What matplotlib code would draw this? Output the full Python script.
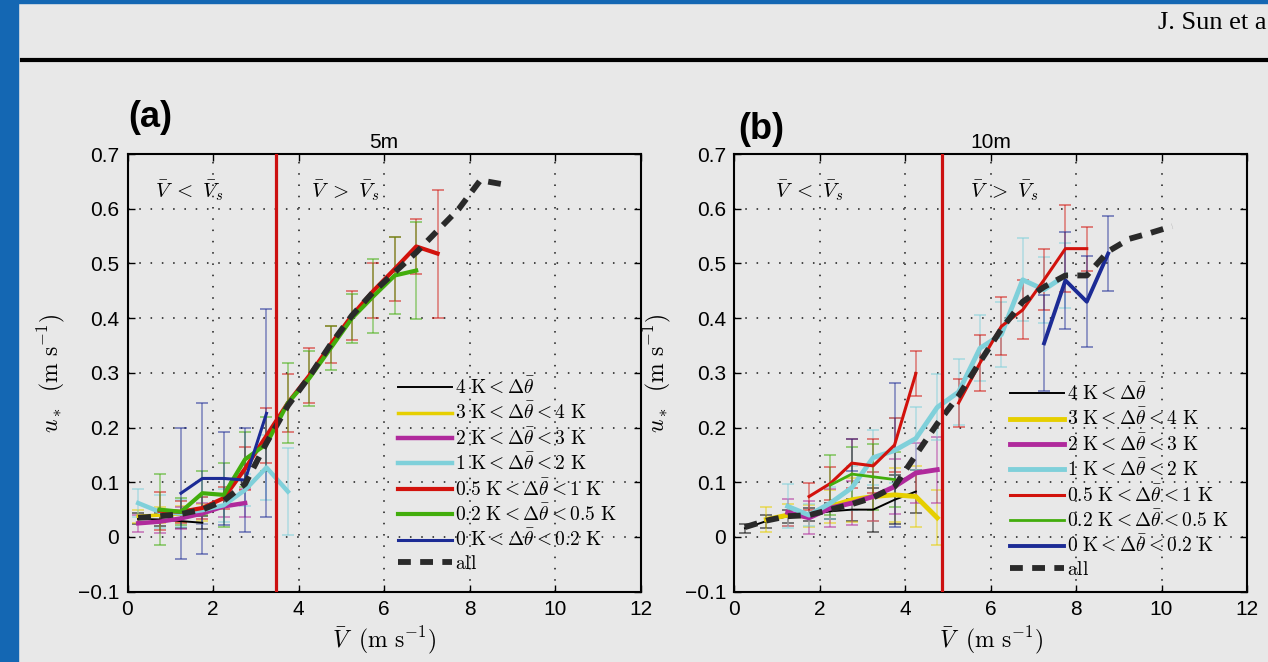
import numpy as np
import matplotlib
matplotlib.use('Agg')
import matplotlib.pyplot as plt
from matplotlib.patches import Rectangle
from matplotlib.lines import Line2D
from matplotlib.ticker import FuncFormatter

plt.rcParams['mathtext.fontset'] = 'cm'
plt.rcParams['font.family'] = ['Liberation Sans', 'DejaVu Sans']

nan = np.nan

# ---------------- legend labels / colours ----------------
class_labels = [r'$4\ \mathrm{K} < \Delta\bar{\theta}$',
                r'$3\ \mathrm{K} < \Delta\bar{\theta} < 4\ \mathrm{K}$',
                r'$2\ \mathrm{K} < \Delta\bar{\theta} < 3\ \mathrm{K}$',
                r'$1\ \mathrm{K} < \Delta\bar{\theta} < 2\ \mathrm{K}$',
                r'$0.5\ \mathrm{K} < \Delta\bar{\theta} < 1\ \mathrm{K}$',
                r'$0.2\ \mathrm{K} < \Delta\bar{\theta} < 0.5\ \mathrm{K}$',
                r'$0\ \mathrm{K} < \Delta\bar{\theta} < 0.2\ \mathrm{K}$']
all_label = r'$\mathrm{all}$'
class_colors = ['#000000', '#e6cf00', '#b02a9c', '#7fd0da', '#d2120c', '#42ad0c', '#1c2b95']

# ---------------- panel (a): 5 m ----------------
a_black_x = [0.25, 0.75, 1.25, 1.75]
a_black_y = [0.033, 0.032, 0.029, 0.026]
a_black_e = [0.010, 0.012, 0.012, 0.012]

a_yellow_x = [0.25, 0.75, 1.25, 1.75]
a_yellow_y = [0.038, 0.040, 0.042, 0.045]
a_yellow_e = [0.012, 0.015, 0.015, 0.015]

a_magenta_x = [0.25, 0.75, 1.25, 1.75, 2.25, 2.75]
a_magenta_y = [0.025, 0.028, 0.034, 0.043, 0.056, 0.062]
a_magenta_e = [0.015, 0.020, 0.020, 0.020, 0.020, 0.025]

a_cyan_x = [0.25, 0.75, 1.25, 1.75, 2.25, 2.75, 3.25, 3.75]
a_cyan_y = [0.062, 0.046, 0.043, 0.049, 0.058, 0.086, 0.127, 0.083]
a_cyan_e = [0.025, 0.030, 0.025, 0.025, 0.030, 0.030, 0.060, 0.079]

a_red_x = [0.75, 1.25, 1.75, 2.25, 2.75, 3.25, 3.75, 4.25, 4.75, 5.25, 5.75, 6.25, 6.75, 7.25]
a_red_y = [0.048, 0.046, 0.053, 0.071, 0.125, 0.185, 0.245, 0.295, 0.352, 0.405, 0.450, 0.490, 0.531, 0.518]
a_red_e = [0.035, 0.020, 0.020, 0.020, 0.040, 0.050, 0.053, 0.050, 0.034, 0.045, 0.050, 0.058, 0.050, 0.117]

a_green_x = [0.75, 1.25, 1.75, 2.25, 2.75, 3.25, 3.75, 4.25, 4.75, 5.25, 5.75, 6.25, 6.75]
a_green_y = [0.050, 0.046, 0.080, 0.077, 0.142, 0.170, 0.245, 0.290, 0.345, 0.400, 0.440, 0.478, 0.487]
a_green_e = [0.065, 0.025, 0.040, 0.058, 0.050, 0.050, 0.073, 0.050, 0.040, 0.045, 0.068, 0.070, 0.088]

a_blue_x = [1.25, 1.75, 2.25, 2.75, 3.25]
a_blue_y = [0.080, 0.107, 0.107, 0.104, 0.226]
a_blue_e = [0.120, 0.138, 0.085, 0.095, 0.190]

a_all_x = [0.25, 0.75, 1.25, 1.75, 2.25, 2.75, 3.25, 3.75, 4.25, 4.75, 5.25, 5.75, 6.25, 6.75, 7.25, 7.75, 8.25, 8.75]
a_all_y = [0.035, 0.038, 0.042, 0.050, 0.066, 0.097, 0.172, 0.240, 0.293, 0.352, 0.405, 0.448, 0.484, 0.520, 0.560, 0.600, 0.652, 0.645]

a_Vs = 3.47

# ---------------- panel (b): 10 m ----------------
b_black_x = [0.25, 0.75, 1.25, 1.75, 2.25, 2.75, 3.25, 3.75, 4.25]
b_black_y = [0.016, 0.029, 0.038, 0.041, 0.047, 0.050, 0.050, 0.068, 0.083]
b_black_e = [0.008, 0.012, 0.012, 0.012, 0.015, 0.020, 0.040, 0.045, 0.040]

b_yellow_x = [0.75, 1.25, 1.75, 2.25, 2.75, 3.25, 3.75, 4.25, 4.75]
b_yellow_y = [0.032, 0.040, 0.038, 0.056, 0.068, 0.074, 0.077, 0.074, 0.035]
b_yellow_e = [0.022, 0.020, 0.020, 0.030, 0.040, 0.045, 0.050, 0.055, 0.050]

b_magenta_x = [1.25, 1.75, 2.25, 2.75, 3.25, 3.75, 4.25, 4.75]
b_magenta_y = [0.045, 0.035, 0.053, 0.062, 0.074, 0.092, 0.117, 0.123]
b_magenta_e = [0.025, 0.030, 0.035, 0.040, 0.045, 0.050, 0.055, 0.060]

b_cyan_x = [1.25, 1.75, 2.25, 2.75, 3.25, 3.75, 4.25, 4.75, 5.25, 5.75, 6.25, 6.75, 7.25, 7.75]
b_cyan_y = [0.056, 0.040, 0.062, 0.090, 0.145, 0.158, 0.180, 0.237, 0.265, 0.345, 0.370, 0.470, 0.452, 0.478]
b_cyan_e = [0.040, 0.020, 0.030, 0.040, 0.050, 0.060, 0.058, 0.060, 0.061, 0.060, 0.060, 0.076, 0.060, 0.060]

b_red_x = [1.75, 2.25, 2.75, 3.25, 3.75, 4.25, 4.75, 5.25, 5.75, 6.25, 6.75, 7.25, 7.75, 8.25]
b_red_y = [0.074, 0.098, 0.135, 0.130, 0.168, 0.299, nan, 0.245, 0.318, 0.385, 0.415, 0.470, 0.527, 0.527]
b_red_e = [0.025, 0.030, 0.045, 0.050, 0.050, 0.041, nan, 0.044, 0.052, 0.053, 0.054, 0.056, 0.080, 0.040]

b_green_x = [2.25, 2.75, 3.25, 3.75]
b_green_y = [0.095, 0.115, 0.110, 0.105]
b_green_e = [0.055, 0.050, 0.060, 0.050]

b_blue_x = [2.75, 3.25, 3.75, 4.25, 4.75, 5.25, 5.75, 6.25, 6.75, 7.25, 7.75, 8.25, 8.75]
b_blue_y = [0.150, nan, 0.150, nan, nan, nan, nan, nan, nan, 0.354, 0.469, 0.430, 0.518]
b_blue_e = [0.030, nan, 0.131, nan, nan, nan, nan, nan, nan, 0.088, 0.089, 0.083, 0.069]

b_all_x = [0.25, 0.75, 1.25, 1.75, 2.25, 2.75, 3.25, 3.75, 4.25, 4.75, 5.25, 5.75, 6.25, 6.75,
           7.25, 7.75, 8.25, 8.75, 9.25, 9.75, 10.25]
b_all_y = [0.018, 0.030, 0.038, 0.040, 0.050, 0.060, 0.072, 0.092, 0.150, 0.207, 0.258, 0.320, 0.380,
           0.430, 0.457, 0.478, 0.478, 0.522, 0.545, 0.556, 0.568]

b_Vs = 4.86

x_ticks = [0, 2, 4, 6, 8, 10, 12]
y_ticks = [-0.1, 0, 0.1, 0.2, 0.3, 0.4, 0.5, 0.6, 0.7]

panel_a = dict(series=[(a_black_x, a_black_y, a_black_e), (a_yellow_x, a_yellow_y, a_yellow_e),
                       (a_magenta_x, a_magenta_y, a_magenta_e), (a_cyan_x, a_cyan_y, a_cyan_e),
                       (a_red_x, a_red_y, a_red_e), (a_green_x, a_green_y, a_green_e),
                       (a_blue_x, a_blue_y, a_blue_e)],
               widths=[1.4, 2.5, 3.2, 3.2, 3.0, 3.0, 2.2],
               all_x=a_all_x, all_y=a_all_y, Vs=a_Vs, title='5m', tag='(a)')
panel_b = dict(series=[(b_black_x, b_black_y, b_black_e), (b_yellow_x, b_yellow_y, b_yellow_e),
                       (b_magenta_x, b_magenta_y, b_magenta_e), (b_cyan_x, b_cyan_y, b_cyan_e),
                       (b_red_x, b_red_y, b_red_e), (b_green_x, b_green_y, b_green_e),
                       (b_blue_x, b_blue_y, b_blue_e)],
               widths=[1.4, 3.5, 3.5, 3.5, 2.2, 2.0, 2.8],
               all_x=b_all_x, all_y=b_all_y, Vs=b_Vs, title='10m', tag='(b)')

BG = '#e8e8e8'
W, H = 1268, 662
fig = plt.figure(figsize=(W / 100, H / 100), dpi=100, facecolor=BG)

# page decorations
fig.patches.append(Rectangle((0, 0), 18 / W, 1, transform=fig.transFigure, color='#1467b3', zorder=10))
fig.patches.append(Rectangle((0, 1 - 3 / H), 1, 3 / H, transform=fig.transFigure, color='#1467b3', zorder=10))
fig.add_artist(Line2D([22 / W, 1], [1 - 60 / H, 1 - 60 / H], transform=fig.transFigure, color='black', lw=3))
fig.text(1266 / W, 1 - 23 / H, 'J. Sun et a', fontsize=19, family=['Liberation Serif', 'DejaVu Serif'],
         va='center', ha='right')

fmt = FuncFormatter(lambda v, p: ('%g' % round(v, 2)).replace('-', '\u2212'))

axes_px = [(127.5, 640.7), (734.3, 1247.0)]
top_px, bot_px = 154.0, 591.7

for (l, r), P, text_x in zip(axes_px, [panel_a, panel_b], [(1.46, 5.09), (1.77, 6.33)]):
    ax = fig.add_axes([l / W, 1 - bot_px / H, (r - l) / W, (bot_px - top_px) / H])
    ax.set_facecolor(BG)
    ax.set_xlim(0, 12)
    ax.set_ylim(-0.1, 0.7)
    ax.set_xticks(x_ticks)
    ax.set_yticks(y_ticks)
    ax.xaxis.set_major_formatter(fmt)
    ax.yaxis.set_major_formatter(fmt)
    ax.tick_params(direction='in', length=5, width=1, top=True, right=True, labelsize=15, pad=6)
    for s in ax.spines.values():
        s.set_linewidth(1.5)
    ax.grid(True, linestyle=(0, (0.8, 5)), color='#444444', lw=1.4)

    handles = []
    for (x, y, e), c, lw, lab in zip(P['series'], class_colors, P['widths'], class_labels):
        ax.errorbar(x, y, yerr=e, fmt='none', ecolor=c, alpha=0.5, capsize=4.5,
                    elinewidth=1.2, capthick=1.4, zorder=2)
        h, = ax.plot(x, y, color=c, lw=lw, zorder=3, label=lab)
        handles.append(h)
    ha, = ax.plot(P['all_x'], P['all_y'], color='#2a2a2a', lw=4.2, dashes=(2.2, 1.6),
                  zorder=5, label=all_label)
    handles.append(ha)
    ax.axvline(P['Vs'], color='#cc1010', lw=2.3, zorder=6)

    ax.text(text_x[0], 0.633, r'$\bar{V}\ <\ \bar{V}_s$', fontsize=15, ha='center', va='center')
    ax.text(text_x[1], 0.633, r'$\bar{V}\ >\ \bar{V}_s$', fontsize=15, ha='center', va='center')

    ax.set_title(P['title'], fontsize=15, pad=4)
    ax.set_xlabel(r'$\bar{V}\;\ (\mathrm{m\ s^{-1}})$', fontsize=17, labelpad=4)
    ax.set_ylabel(r'$u_*\;\ (\mathrm{m\ s^{-1}})$', fontsize=17, labelpad=8)

    leg_x = (398 - l) / (r - l) if P is panel_a else (1010 - l) / (r - l)
    leg_y = (bot_px - 377) / (bot_px - top_px) if P is panel_a else (bot_px - 383) / (bot_px - top_px)
    ax.legend(handles=handles, loc='upper left', bbox_to_anchor=(leg_x, leg_y), frameon=False,
              fontsize=14, handlelength=2.8, handletextpad=0.15, labelspacing=0.22,
              borderpad=0, borderaxespad=0)

fig.text(128 / W, 1 - 100 / H, '(a)', fontsize=26, fontweight='bold', va='top', ha='left')
fig.text(738 / W, 1 - 112 / H, '(b)', fontsize=26, fontweight='bold', va='top', ha='left')

fig.savefig('out.png', dpi=100, facecolor=BG)
